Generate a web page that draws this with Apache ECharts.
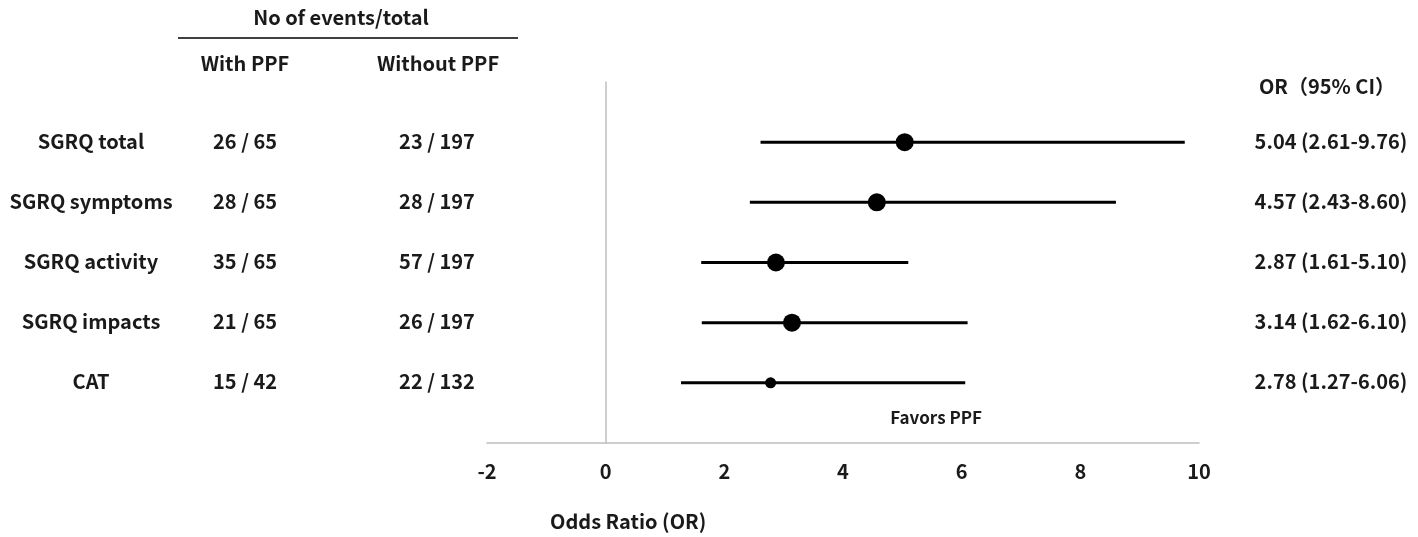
<!DOCTYPE html>
<html>
<head>
<meta charset="utf-8">
<script src="https://cdn.jsdelivr.net/npm/echarts@6/dist/echarts.min.js"></script>
<style>
html,body{margin:0;padding:0;background:#fff;}
#main{width:1418px;height:537px;}
</style>
</head>
<body>
<div id="main"></div>
<script>
// 森林图数据
const outcomes = ['SGRQ total', 'SGRQ symptoms', 'SGRQ activity', 'SGRQ impacts', 'CAT'];
const withPPF = ['26 / 65', '28 / 65', '35 / 65', '21 / 65', '15 / 42'];
const withoutPPF = ['23 / 197', '28 / 197', '57 / 197', '26 / 197', '22 / 132'];
const orValue = [5.04, 4.57, 2.87, 3.14, 2.78];
const ciLow = [2.61, 2.43, 1.61, 1.62, 1.27];
const ciHigh = [9.76, 8.60, 5.10, 6.10, 6.06];
const markerSize = [18, 18, 18, 18, 11];
const xTicks = [-2, 0, 2, 4, 6, 8, 10];

const FONT = '"Noto Sans CJK JP", "Noto Sans", sans-serif';
const TXT = '#1a1a1a';

let chart = echarts.init(document.getElementById('main'));

let ciData = outcomes.map((name, i) => [ciLow[i], ciHigh[i], i + 1]);
let pointData = outcomes.map((name, i) => ({
    value: [orValue[i], i + 1],
    symbolSize: markerSize[i]
}));

let option = {
    backgroundColor: '#fff',
    animation: false,
    grid: {left: 487, right: 219, top: 82, bottom: 94},
    xAxis: {
        type: 'value',
        position: 'bottom',
        min: xTicks[0],
        max: xTicks[xTicks.length - 1],
        interval: 2,
        axisLine: {show: true, onZero: false, lineStyle: {color: '#bfbfbf', width: 1.5}},
        axisTick: {show: false},
        splitLine: {show: false},
        axisLabel: {
            margin: 18,
            color: TXT,
            fontSize: 20,
            fontWeight: 'bold',
            fontFamily: FONT
        }
    },
    yAxis: {
        type: 'value',
        min: 0,
        max: 6,
        inverse: true,
        axisLine: {show: true, onZero: true, lineStyle: {color: '#bfbfbf', width: 1.5}},
        axisTick: {show: false},
        axisLabel: {show: false},
        splitLine: {show: false}
    },
    series: [
        {
            name: 'CI',
            type: 'custom',
            renderItem: function (params, api) {
                let p1 = api.coord([api.value(0), api.value(2)]);
                let p2 = api.coord([api.value(1), api.value(2)]);
                return {
                    type: 'line',
                    shape: {x1: p1[0], y1: p1[1], x2: p2[0], y2: p2[1]},
                    style: {stroke: '#000', lineWidth: 3}
                };
            },
            encode: {x: [0, 1], y: 2},
            data: ciData
        },
        {
            name: 'OR',
            type: 'scatter',
            symbol: 'circle',
            itemStyle: {color: '#000', opacity: 1},
            data: pointData,
            z: 3
        }
    ]
};

chart.setOption(option);

// 表格文字，行位置取自坐标轴
function textEl(x, y, text, align, size) {
    return {
        type: 'text',
        x: x,
        y: y,
        style: {
            text: text,
            fill: TXT,
            font: 'bold ' + (size || 20) + 'px ' + FONT,
            textAlign: align || 'center',
            textVerticalAlign: 'middle'
        }
    };
}

let els = [];
els.push(textEl(341, 17, 'No of events/total'));
els.push({
    type: 'line',
    shape: {x1: 178, y1: 38, x2: 518, y2: 38},
    style: {stroke: '#000', lineWidth: 1.5}
});
els.push(textEl(245, 63, 'With PPF'));
els.push(textEl(438, 63, 'Without PPF'));
els.push(textEl(1327, 86, 'OR（95% CI）'));

outcomes.forEach((name, i) => {
    let y = chart.convertToPixel({gridIndex: 0}, [0, i + 1])[1] - 1;
    els.push(textEl(91, y, name));
    els.push(textEl(245, y, withPPF[i]));
    els.push(textEl(437, y, withoutPPF[i]));
    els.push(textEl(1331, y, orValue[i].toFixed(2) + ' (' + ciLow[i].toFixed(2) + '-' + ciHigh[i].toFixed(2) + ')'));
});

let fav = chart.convertToPixel({gridIndex: 0}, [5.57, 5.57]);
els.push(textEl(fav[0], fav[1], 'Favors PPF', 'center', 17));
els.push(textEl(550, 521, 'Odds Ratio (OR)', 'left'));

chart.setOption({graphic: {elements: els}});
</script>
</body>
</html>
